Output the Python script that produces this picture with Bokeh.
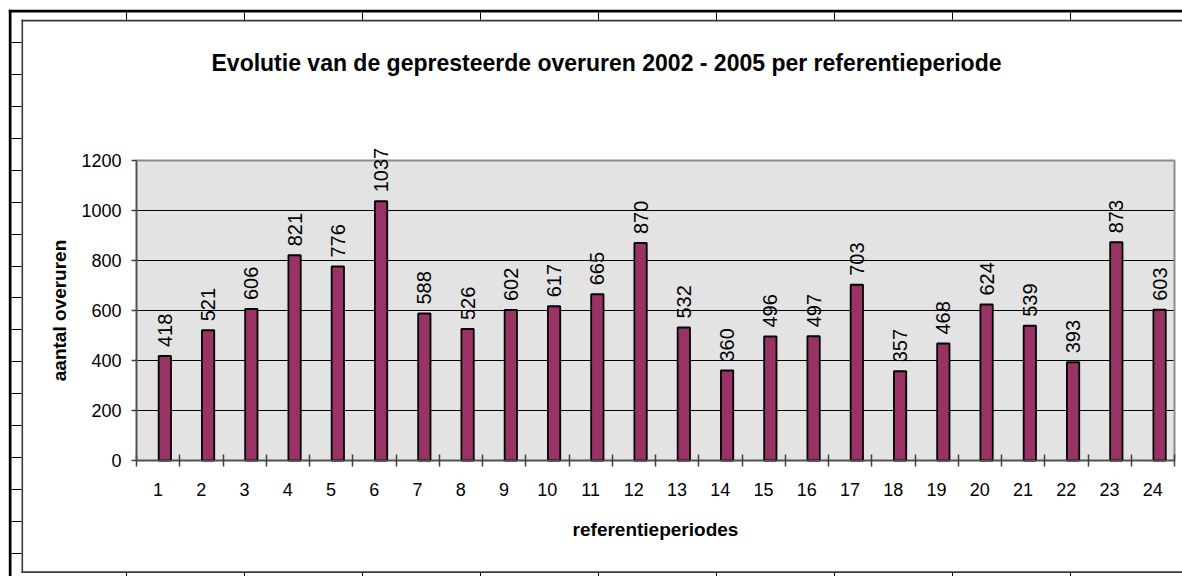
from bokeh.plotting import figure
from bokeh.models import ColumnDataSource, Range1d, FixedTicker, LabelSet, Label, BoxAnnotation
from bokeh.transform import dodge
from bokeh.embed import file_html
from bokeh.resources import INLINE
from bokeh.core.properties import value

# ---------------- data ----------------
TITLE = "Evolutie van de gepresteerde overuren 2002 - 2005 per referentieperiode"
X_LABEL = "referentieperiodes"
Y_LABEL = "aantal overuren"
PERIODS = [1, 2, 3, 4, 5, 6, 7, 8, 9, 10, 11, 12,
           13, 14, 15, 16, 17, 18, 19, 20, 21, 22, 23, 24]
OVERUREN = [418, 521, 606, 821, 776, 1037, 588, 526, 602, 617, 665, 870,
            532, 360, 496, 497, 703, 357, 468, 624, 539, 393, 873, 603]
Y_TICKS = [0, 200, 400, 600, 800, 1000, 1200]

# ---------------- layout (canvas pixels) ----------------
W, H = 1182, 576
FL, FR, FT, FB = 136, 1174, 160, 460   # plot area inside the canvas
FONT = "Liberation Sans"

X0, X1 = 0.5, 24.5
Y0, Y1 = 0, 1200
KX = (X1 - X0) / (FR - FL)
KY = (Y1 - Y0) / (FB - FT)


def dx(px):
    return X0 + (px - FL) * KX


def dy(py):
    return Y0 + (FB - py) * KY


p = figure(width=W, height=H, output_backend="svg", toolbar_location=None,
           x_range=Range1d(dx(0), dx(W)), y_range=Range1d(dy(H), dy(0)),
           min_border=0, min_border_left=0, min_border_right=0,
           min_border_top=0, min_border_bottom=0)

p.background_fill_color = "white"
p.border_fill_color = "white"
p.outline_line_color = None
p.xgrid.visible = False
p.ygrid.visible = False

src = ColumnDataSource(dict(period=PERIODS, val=OVERUREN,
                            txt=[str(v) for v in OVERUREN]))

# plot area background, grid lines, outline
p.quad(left=X0, right=X1, bottom=Y0, top=Y1, fill_color="#E3E3E3", line_color=None)
p.segment(x0=[X0] * len(Y_TICKS), x1=[X1] * len(Y_TICKS), y0=Y_TICKS, y1=Y_TICKS,
          line_color="black", line_width=1)
p.quad(left=X0, right=X1, bottom=Y0, top=Y1, fill_color=None,
       line_color="#8C8C8C", line_width=2)

p.vbar(x=dodge("period", 0.155), top="val", width=0.285, bottom=0, source=src,
       fill_color="#993366", line_color="black", line_width=1.8)

labels = LabelSet(x=dodge("period", 0.155), y="val", text="txt", source=src,
                  angle=1.5707963, text_align="left", text_baseline="middle",
                  x_offset=0, y_offset=9, text_font=value(FONT),
                  text_font_size=value("20px"), text_color="black")
p.add_layout(labels)

# x axis
xa = p.xaxis[0]
xa.fixed_location = Y0
xa.bounds = (X0, X1)
xa.ticker = FixedTicker(ticks=PERIODS,
                        minor_ticks=[v - 0.5 for v in PERIODS] + [PERIODS[-1] + 0.5])
xa.major_tick_in = 0
xa.major_tick_out = 0
xa.minor_tick_in = 6
xa.minor_tick_out = 6
xa.minor_tick_line_color = "#404040"
xa.minor_tick_line_width = 1.5
xa.axis_line_color = "#505050"
xa.axis_line_width = 1.5
xa.major_label_text_font = FONT
xa.major_label_text_font_size = "18px"
xa.major_label_text_color = "black"
xa.major_label_standoff = 16
xa.axis_label = X_LABEL
xa.axis_label_text_font = FONT
xa.axis_label_text_font_size = "19px"
xa.axis_label_text_font_style = "bold"
xa.axis_label_text_color = "black"
xa.axis_label_standoff = 20

# y axis
ya = p.yaxis[0]
ya.fixed_location = X0
ya.bounds = (Y0, Y1)
ya.ticker = FixedTicker(ticks=Y_TICKS)
ya.major_tick_in = 0
ya.major_tick_out = 5
ya.minor_tick_in = 0
ya.minor_tick_out = 0
ya.major_tick_line_color = "#404040"
ya.major_tick_line_width = 1.5
ya.axis_line_color = "#505050"
ya.axis_line_width = 1.5
ya.major_label_text_font = FONT
ya.major_label_text_font_size = "18px"
ya.major_label_text_color = "black"
ya.major_label_standoff = 10
ya.axis_label = Y_LABEL
ya.axis_label_text_font = FONT
ya.axis_label_text_font_size = "19px"
ya.axis_label_text_font_style = "bold"
ya.axis_label_text_color = "black"
ya.axis_label_standoff = 8

# title
p.add_layout(Label(x=dx(606), y=dy(62), text=TITLE, text_align="center",
                   text_baseline="alphabetic", text_font=FONT,
                   text_font_size="23px", text_font_style="bold",
                   text_color="black"))

# spreadsheet frame decorations (canvas pixel boxes: left, right, top, bottom)
DECOR = [
    (8.3, 1190, 9.3, 12.0, "black"),      # thick top line
    (8.3, 11.0, 9.3, 600, "black"),       # thick left line
    (21, 1190, 19.2, 21.0, "#3A3A3A"),    # chart border top
    (21, 22.6, 19.2, 572.6, "#3A3A3A"),   # chart border left
    (21, 1190, 570.8, 572.6, "#3A3A3A"),  # chart border bottom
]
COL_TICKS = [126, 244, 362, 480, 598, 716, 834, 952, 1070]
ROW_TICKS = [42, 74, 106, 138, 170, 202, 234, 266, 297, 329, 361,
             393, 425, 457, 489, 521, 553]
for cx in COL_TICKS:
    DECOR.append((cx - 0.5, cx + 0.5, 12.0, 19.2, "black"))
    DECOR.append((cx - 0.5, cx + 0.5, 572.6, 580, "black"))
for ry in ROW_TICKS:
    DECOR.append((11.0, 21.0, ry - 0.5, ry + 0.5, "black"))

for (l, r, t, b, c) in DECOR:
    p.add_layout(BoxAnnotation(left=dx(l), right=dx(r), top=dy(t), bottom=dy(b),
                               fill_color=c, fill_alpha=1.0, line_alpha=0,
                               level="overlay"))

open("out.html", "w").write(file_html(p, INLINE))
